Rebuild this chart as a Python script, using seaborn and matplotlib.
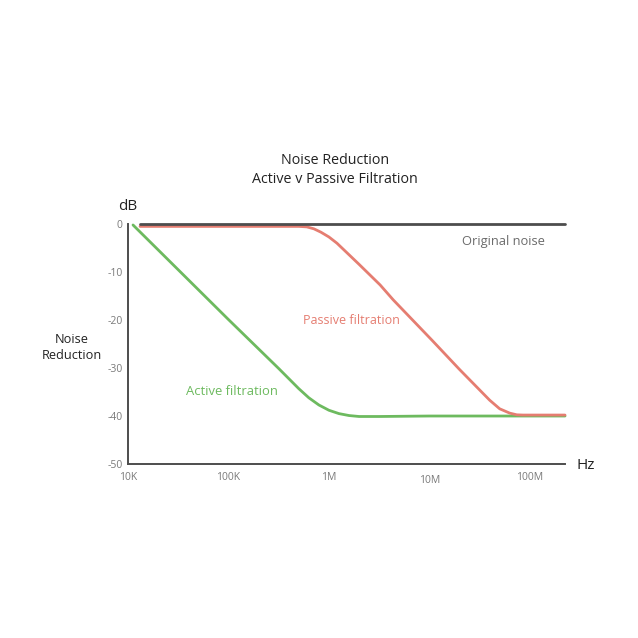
"""Noise reduction: active vs passive filtration."""

import matplotlib.pyplot as plt
import numpy as np
import pandas as pd
import seaborn as sns

# values (log10 Hz, dB)
ACTIVE_LOGF = [4.05, 5.0, 5.5, 5.7, 5.8, 5.9, 6.0, 6.1, 6.2, 6.3, 6.5, 7.0, 8.0, 8.35]
ACTIVE_DB = [-0.2, -19.9, -30.1, -34.3, -36.2, -37.7, -38.8, -39.5, -39.9, -40.1, -40.1, -40.0, -40.0, -40.0]

PASSIVE_LOGF = [4.12, 5.0, 5.7, 5.78, 5.85, 5.92, 6.0, 6.08, 6.3, 6.51, 6.64, 7.03,
                7.3, 7.6, 7.7, 7.8, 7.87, 7.93, 8.35]
PASSIVE_DB = [-0.5, -0.5, -0.5, -0.6, -1.0, -1.7, -2.7, -4.0, -8.4, -12.7, -15.8, -24.3,
              -30.3, -36.7, -38.5, -39.4, -39.75, -39.8, -39.8]

ORIGINAL_LOGF = [4.12, 8.35]
ORIGINAL_DB = [0.0, 0.0]

X_TICKS = [1e4, 1e5, 1e6, 1e7, 1e8]
X_LABELS = ["10K", "100K", "1M", "10M", "100M"]
Y_TICKS = [0, -10, -20, -30, -40, -50]
Y_LABELS = ["0", "-10", "-20", "-30", "-40", "-50"]

GREEN = "#6dba5f"
RED = "#e57d71"
DARK = "#4d4d4d"
GRAY = "#6b6b6b"
TICK_GRAY = "#7a7a7a"


def to_frame(logf, db):
    return pd.DataFrame({"hz": np.power(10.0, logf), "db": db})


sns.set_theme(style="white")
plt.rcParams["font.family"] = ["Open Sans", "DejaVu Sans"]

fig = plt.figure(figsize=(6.38, 6.38), dpi=100)
ax = fig.add_axes([0.2006, 0.2727, 0.685, 0.3762])

sns.lineplot(data=to_frame(ACTIVE_LOGF, ACTIVE_DB), x="hz", y="db", color=GREEN,
             linewidth=2, ax=ax, clip_on=False)
sns.lineplot(data=to_frame(PASSIVE_LOGF, PASSIVE_DB), x="hz", y="db", color=RED,
             linewidth=2, ax=ax, clip_on=False)
sns.lineplot(data=to_frame(ORIGINAL_LOGF, ORIGINAL_DB), x="hz", y="db", color=DARK,
             linewidth=2, ax=ax, clip_on=False)

ax.set_xscale("log")
ax.set_xlim(1e4, 10 ** 8.35)
ax.set_ylim(-50, 0)
ax.set_xticks(X_TICKS)
ax.set_xticklabels(X_LABELS)
ax.minorticks_off()
ax.set_yticks(Y_TICKS)
ax.set_yticklabels(Y_LABELS)
ax.set_xlabel("")
ax.set_ylabel("")

for side in ["top", "right"]:
    ax.spines[side].set_visible(False)
for side in ["left", "bottom"]:
    ax.spines[side].set_color(DARK)
    ax.spines[side].set_linewidth(1.4)
ax.tick_params(axis="both", direction="in", length=6, width=1.4, color=DARK,
               labelsize=7.5, labelcolor=TICK_GRAY)
ax.tick_params(axis="x", pad=6)
ax.tick_params(axis="y", pad=4)
# the "10M" label sits a little lower in the original
ax.get_xticklabels()[3].set_y(-0.012)

fig.text(0.525, 0.749, "Noise Reduction", ha="center", va="center", fontsize=10.3, color="#222222")
fig.text(0.525, 0.718, "Active v Passive Filtration", ha="center", va="center", fontsize=10.3,
         color="#222222")
fig.text(0.201, 0.676, "dB", ha="center", va="center", fontsize=11, color="#222222")
fig.text(0.113, 0.455, "Noise\nReduction", ha="center", va="center", fontsize=9.2,
         color="#222222", linespacing=1.3)
fig.text(0.918, 0.271, "Hz", ha="center", va="center", fontsize=11, color="#222222")

ax.text(10 ** 7.32, -3.6, "Original noise", ha="left", va="center", fontsize=9.3, color=GRAY)
ax.text(10 ** 5.74, -20.0, "Passive filtration", ha="left", va="center", fontsize=9, color=RED)
ax.text(10 ** 4.58, -34.8, "Active filtration", ha="left", va="center", fontsize=9.4, color=GREEN)

fig.savefig("out.png", dpi=100)
